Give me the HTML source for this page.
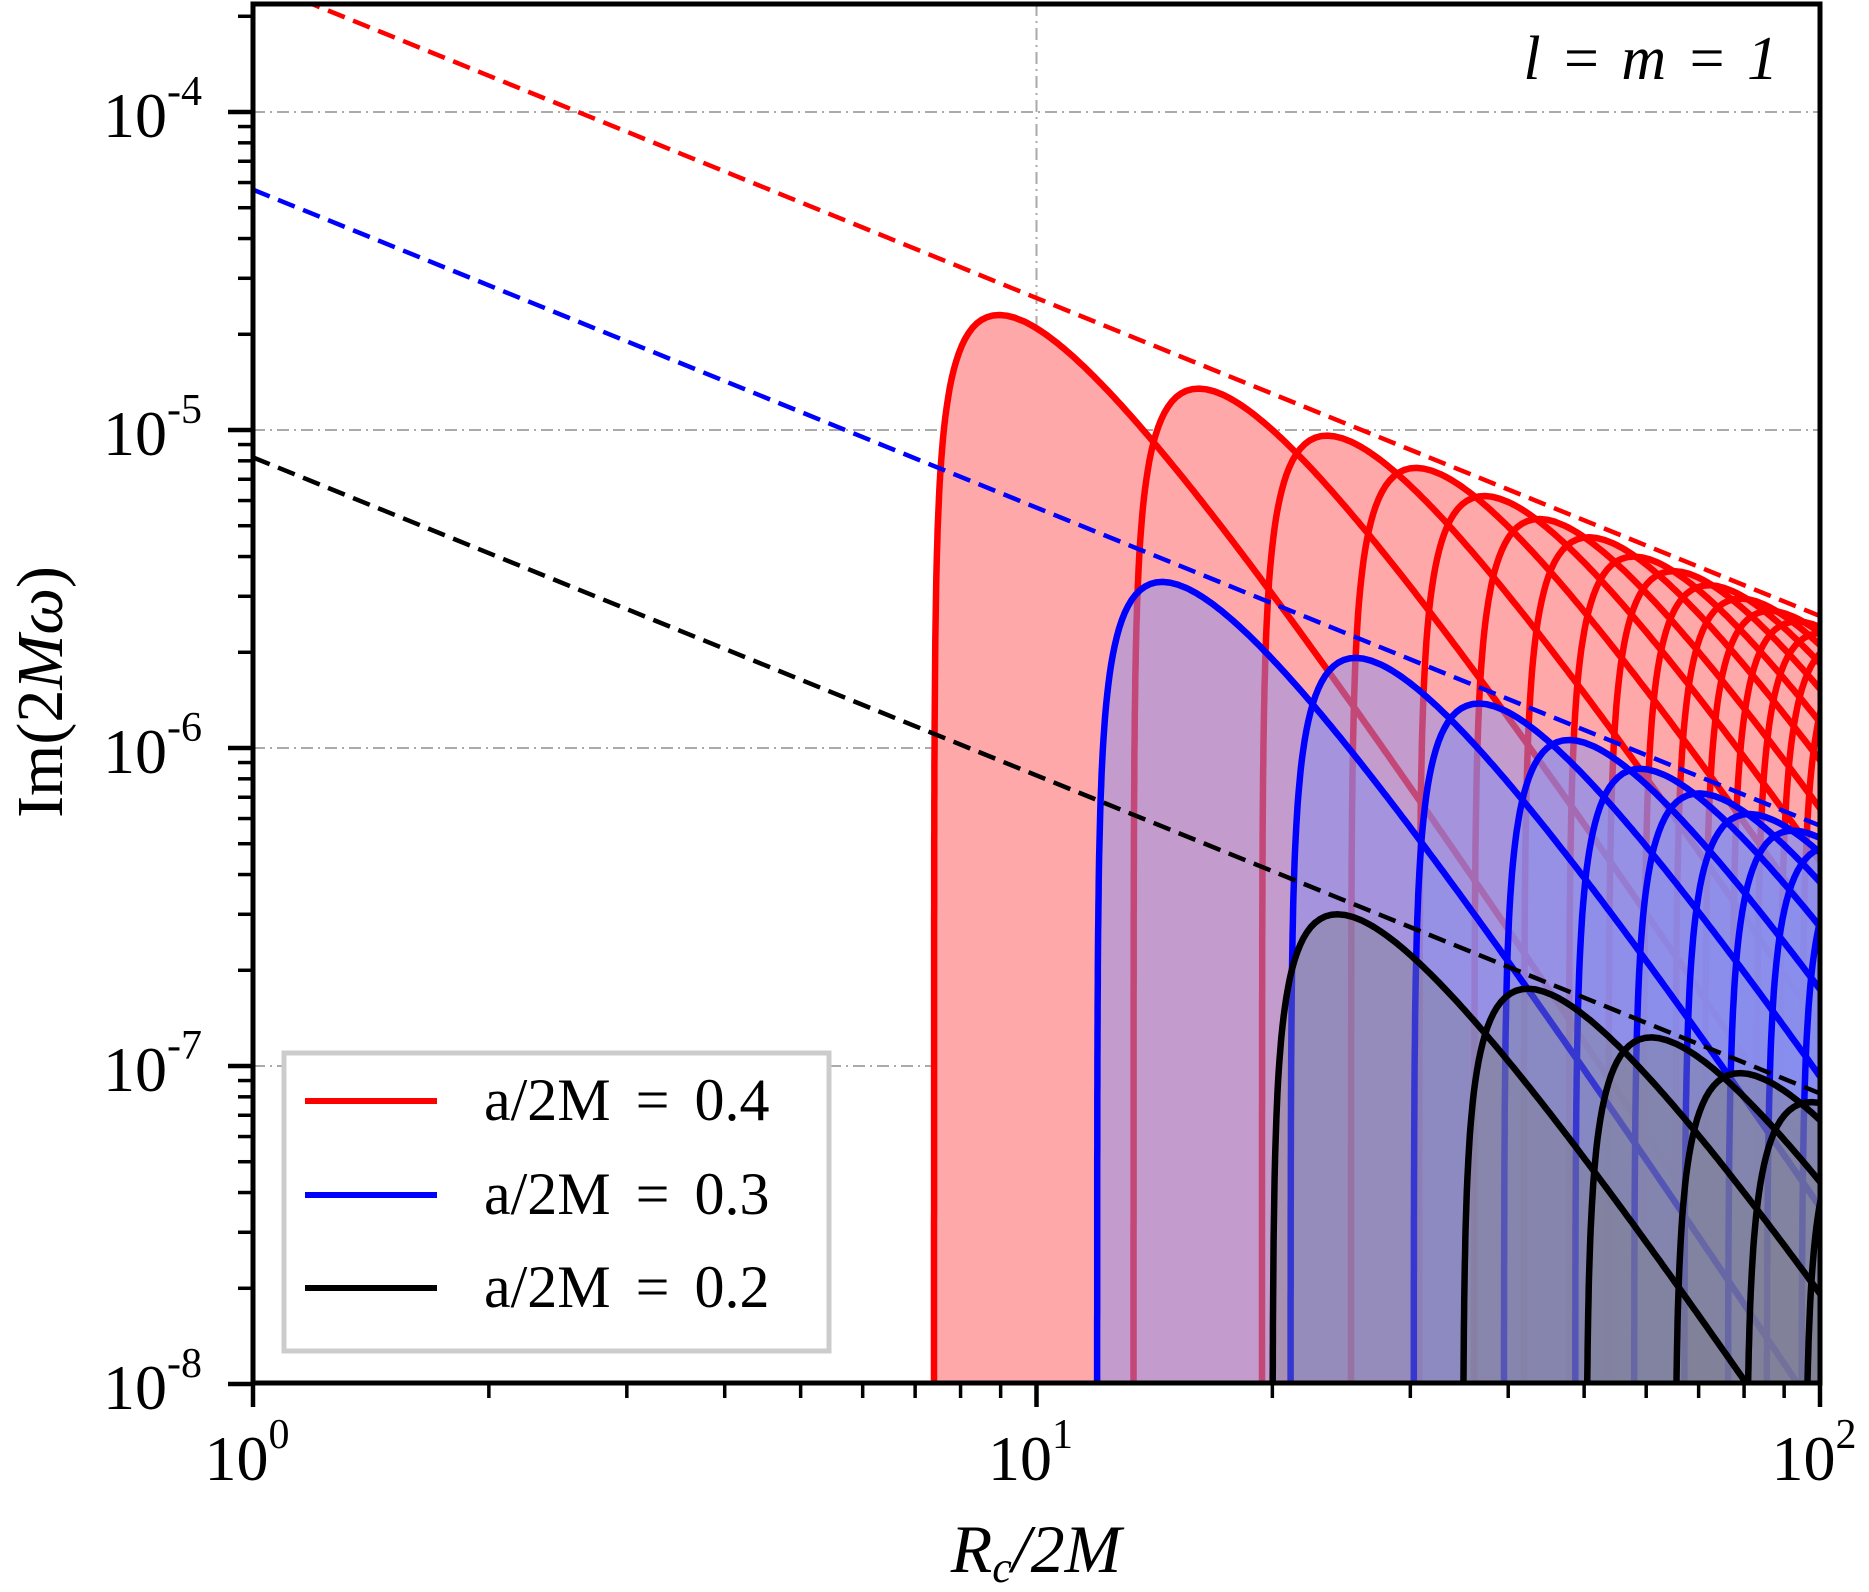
<!DOCTYPE html>
<html><head><meta charset="utf-8"><style>
html,body{margin:0;padding:0;background:#fff;overflow:hidden;width:1869px;height:1592px;}
svg{display:block;}
text{font-family:"Liberation Serif",serif;fill:#000;}
</style></head><body>
<svg id="chart" width="1869" height="1592" viewBox="0 0 1869 1592" xmlns="http://www.w3.org/2000/svg">
<defs><clipPath id="plotclip"><rect x="253" y="4" width="1567" height="1379"/></clipPath></defs>
<g id="grid"></g>
<g id="series" clip-path="url(#plotclip)"></g>
<g id="axes"></g>
<text x="1778" y="79" font-size="62" text-anchor="end" font-style="italic" word-spacing="4">l = m = 1</text>
<text x="1036" y="1572" font-size="68" text-anchor="middle" font-style="italic">R<tspan font-size="44" dy="10">c</tspan><tspan dy="-10">/2M</tspan></text>
<text transform="translate(62,692) rotate(-90)" font-size="66" text-anchor="middle">Im(2<tspan font-style="italic">Mω</tspan>)</text>
<g>
<rect x="284" y="1053" width="545" height="298" fill="#fff" stroke="#cccccc" stroke-width="5"/>
<line x1="305" y1="1101" x2="437" y2="1101" stroke="#ff0000" stroke-width="6"/>
<text x="484" y="1120" font-size="60" word-spacing="10">a/2M = 0.4</text>
<line x1="305" y1="1195" x2="437" y2="1195" stroke="#0000ff" stroke-width="6"/>
<text x="484" y="1214" font-size="60" word-spacing="10">a/2M = 0.3</text>
<line x1="305" y1="1288" x2="437" y2="1288" stroke="#000" stroke-width="6"/>
<text x="484" y="1307" font-size="60" word-spacing="10">a/2M = 0.2</text>
</g>
</svg>
<script>
// ---- data ----
const xTickExps = [0, 1, 2];
const yTickExps = [-4, -5, -6, -7, -8];
const envelopeAmps = [2.6e-4, 5.7e-5, 8.2e-6]; // A in A/x for red, blue, black dashed lines
const redStarts = [7.4, 13.3, 19.4, 25.2, 30.8, 36.2, 41.9, 47.8, 53.7, 59.6, 65.4, 71.3, 77.2, 83.0, 88.9, 94.8];
const redPeaks  = [2.3e-5, 1.35e-5, 9.6e-6, 7.6e-6, 6.2e-6, 5.25e-6, 4.6e-6, 4.0e-6, 3.6e-6, 3.25e-6, 2.95e-6, 2.7e-6, 2.5e-6, 2.3e-6, 2.15e-6, 2.0e-6];
const blueStarts = [11.95, 21.1, 30.3, 39.5, 48.7, 57.9, 67.1, 76.3, 85.5, 94.7];
const bluePeaks  = [3.33e-6, 1.92e-6, 1.38e-6, 1.06e-6, 8.6e-7, 7.2e-7, 6.2e-7, 5.5e-7, 4.9e-7, 4.4e-7];
const blackStarts = [20.0, 35.0, 50.3, 65.3, 80.5, 95.7];
const blackPeaks  = [3.0e-7, 1.75e-7, 1.23e-7, 9.5e-8, 7.7e-8, 6.5e-8];

// ---- axes ----
const X0=253, X1=1820, Y0=4, YB=1383;
const XD=783.5, YD=318;
function X(x){return X0+XD*Math.log10(x);}
function Y(y){return 112-YD*(Math.log10(y)+4);}
const NS="http://www.w3.org/2000/svg";
function mk(tag,attrs,parent){const e=document.createElementNS(NS,tag);for(const k in attrs)e.setAttribute(k,attrs[k]);parent.appendChild(e);return e;}
const grid=document.getElementById('grid'), ser=document.getElementById('series'), axes=document.getElementById('axes');

xTickExps.forEach(e=>{const l=mk('line',{x1:X(Math.pow(10,e)),x2:X(Math.pow(10,e)),y1:Y0,y2:YB,stroke:'#aaaaaa','stroke-width':2,'stroke-dasharray':'12,5,2,5'},grid);

});
yTickExps.forEach(e=>{const l=mk('line',{x1:X0,x2:X1,y1:Y(Math.pow(10,e)),y2:Y(Math.pow(10,e)),stroke:'#aaaaaa','stroke-width':2,'stroke-dasharray':'12,5,2,5'},grid);

});

const P=0.8, S=3.8;
function g(r){return Math.pow(1-1/r,P)*Math.pow(r,-S);}
const gPeak=g(1+P/S);
function humpPoints(x0,peak){
  const pts=[];
  for(let k=-6;k<=0;k+=0.05){const r=1+Math.pow(10,k)*0.3; pts.push(r);}
  let lr=Math.log10(1.3);
  while(lr<Math.log10(100/x0)+0.01){pts.push(Math.pow(10,lr)); lr+=0.004;}
  return pts.map(r=>{const x=x0*r;return [X(x),Y(Math.max(peak*g(r)/gPeak,1e-12))];}).filter(p=>p[0]<=X1+20);
}
function pathD(pts){return pts.map((p,i)=>(i?'L':'M')+p[0].toFixed(1)+','+Math.min(p[1],YB+20).toFixed(1)).join(' ');}

function drawFamily(starts,peaks,color,fill,union,name){
  const curves=starts.map((s,i)=>humpPoints(s,peaks[i]));
  if(union){
    const pts=[];
    for(let px=X(starts[0]);px<=X1+2;px+=1){
      const x=Math.pow(10,(px-X0)/XD);let m=1e-12;
      starts.forEach((s,i)=>{if(x>s){const v=peaks[i]*g(x/s)/gPeak;if(v>m)m=v;}});
      pts.push([px,Y(m)]);
    }
    const d=pathD(pts)+' L'+(X1+2)+','+(YB+10)+' L'+X(starts[0])+','+(YB+10)+' Z';
    const f=mk('path',{d:d,fill:fill,stroke:'none'},ser);
    
    
  } else {
    curves.forEach((c,i)=>{
      const d=pathD(c)+' L'+c[c.length-1][0].toFixed(1)+','+(YB+10)+' L'+X(starts[i]).toFixed(1)+','+(YB+10)+' Z';
      const f=mk('path',{d:d,fill:fill[0],'fill-opacity':fill[1],stroke:'none'},ser);
      
      
    });
  }
  curves.forEach(c=>{
    const l=mk('path',{d:pathD(c),fill:'none',stroke:color,'stroke-width':6.5,'stroke-linejoin':'round'},ser);
    
    
  });
}
drawFamily(redStarts,redPeaks,'#ff0000','#ffa8aa',true,'red-a04');
drawFamily(blueStarts,bluePeaks,'#0000ff',['#888ded',0.5],false,'blue-a03');
drawFamily(blackStarts,blackPeaks,'#000000',['#808090',0.42],false,'black-a02');

const dashColors=['#ff0000','#0000ff','#000000'];
const dashNames=['envelope-red','envelope-blue','envelope-black'];
envelopeAmps.forEach((A,i)=>{
  const l=mk('line',{x1:X(1),y1:Y(A),x2:X(100),y2:Y(A/100),stroke:dashColors[i],'stroke-width':4.5,'stroke-dasharray':'18,9'},ser);
  
  
});

const fr=mk('rect',{x:X0,y:Y0,width:X1-X0,height:YB-Y0,fill:'none',stroke:'#000','stroke-width':5},axes);



xTickExps.forEach(e=>{
  const v=Math.pow(10,e);
  const t=mk('line',{x1:X(v),x2:X(v),y1:YB,y2:YB+24,stroke:'#000','stroke-width':4.5},axes);
  
  
  const tx=mk('text',{x:X(v)-6,y:1480,'font-size':64,'text-anchor':'middle'},axes);
  
  
  tx.innerHTML='10<tspan font-size="42" dy="-32">'+e+'</tspan>';
  if(e<2) for(let m=2;m<=9;m++){
    const mt=mk('line',{x1:X(m*v),x2:X(m*v),y1:YB,y2:YB+15,stroke:'#000','stroke-width':3.5},axes);
    
    
  }
});
yTickExps.forEach(e=>{
  const v=Math.pow(10,e);
  const t=mk('line',{x1:X0-25,x2:X0,y1:Y(v),y2:Y(v),stroke:'#000','stroke-width':4.5},axes);
  
  
  const tx=mk('text',{x:202,y:Y(v)+25,'font-size':64,'text-anchor':'end'},axes);
  
  
  tx.innerHTML='10<tspan font-size="42" dy="-32">'+e+'</tspan>';
});
[-8,-7,-6,-5,-4].forEach(e=>{
  for(let m=2;m<=9;m++){
    const v=m*Math.pow(10,e);const y=Y(v);
    if(y<Y0)continue;
    const mt=mk('line',{x1:X0-15,x2:X0,y1:y,y2:y,stroke:'#000','stroke-width':3.5},axes);
    
    
  }
});
</script>
</body></html>
